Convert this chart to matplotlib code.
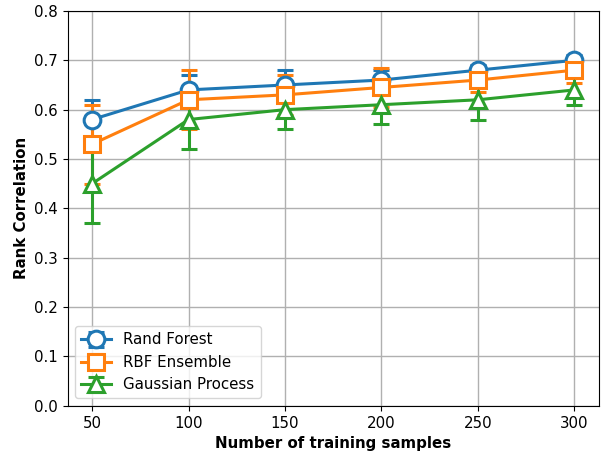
import numpy as np
import matplotlib
matplotlib.use("Agg")
import matplotlib.pyplot as plt

plt.rcParams["font.size"] = 10.8

samples = [50, 100, 150, 200, 250, 300]

rf_mean = [0.58, 0.64, 0.65, 0.66, 0.68, 0.70]
rf_err = [0.04, 0.03, 0.03, 0.02, 0.01, 0.01]

rbf_mean = [0.53, 0.62, 0.63, 0.645, 0.66, 0.68]
rbf_err = [0.08, 0.06, 0.04, 0.04, 0.025, 0.025]

gp_mean = [0.45, 0.58, 0.60, 0.61, 0.62, 0.64]
gp_err = [0.08, 0.06, 0.04, 0.04, 0.04, 0.03]

series = [
    ("Rand Forest", rf_mean, rf_err, "o", "#1f77b4"),
    ("RBF Ensemble", rbf_mean, rbf_err, "s", "#ff7f0e"),
    ("Gaussian Process", gp_mean, gp_err, "^", "#2ca02c"),
]

fig, ax = plt.subplots(figsize=(6.01, 4.55), dpi=100)

for label, mean, err, marker, color in series:
    ax.errorbar(samples, mean, yerr=err, label=label, color=color,
                marker=marker, markersize=12, markerfacecolor="white",
                markeredgewidth=2.2, linewidth=2.2, capsize=5.5, capthick=2.2,
                elinewidth=2.2)

ax.set_ylim(0, 0.8)
ax.set_xticks(samples)
ax.grid(True, color="#b0b0b0", linewidth=1)
ax.set_axisbelow(True)
ax.set_xlabel("Number of training samples", fontweight="bold")
ax.set_ylabel("Rank Correlation", fontweight="bold")
ax.legend(loc="lower left")

fig.subplots_adjust(left=0.113, right=0.996, top=0.976, bottom=0.108)
fig.savefig("out.png", dpi=100)
